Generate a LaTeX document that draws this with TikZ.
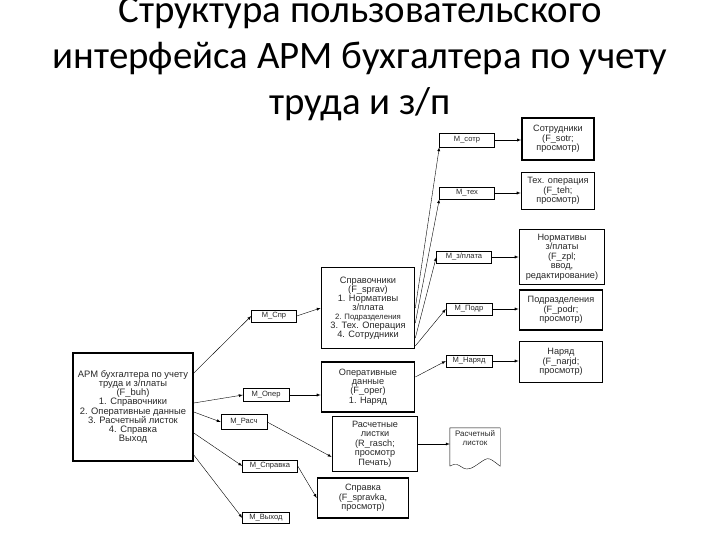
\documentclass[tikz,border=0pt]{standalone}
\usepackage{fontspec}
\setmainfont{Liberation Sans}
\newfontfamily\titlefont{Carlito}
\usetikzlibrary{arrows}
\tikzset{>=latex}
\tikzset{
  menu/.style={draw,thin,inner sep=0pt,align=center,text=black!85,font=\fontsize{7.6}{8}\selectfont},
  form/.style={draw,line width=1.6pt,inner sep=0pt,align=center,text=black!85,font=\fontsize{9.2}{9.5}\selectfont},
  link/.style={->,thin}
}

\begin{document}
\begin{tikzpicture}[x=1bp,y=-1bp]
  \useasboundingbox (0,0) rectangle (720,540);
  \node[align=center,font=\titlefont\fontsize{39}{46}\selectfont] (title) at (360,59)
    {Структура пользовательского\\интерфейса АРМ бухгалтера по учету\\труда и з/п};

  \node[form,font=\fontsize{9.4}{9.3}\selectfont,minimum width=120bp,minimum height=108bp] (main) at (133,407)
    {АРМ бухгалтера по учету\\труда и з/платы\\(F\_buh)\\1. Справочники\\2. Оперативные данные\\3. Расчетный  листок\\4. Справка\\Выход};

  \node[menu,minimum width=45bp,minimum height=12bp] (mspr) at (274,316) {M\_Спр};
  \node[menu,minimum width=46bp,minimum height=13bp] (moper) at (266,395) {M\_Опер};
  \node[menu,minimum width=46bp,minimum height=15bp] (mrasch) at (244,422) {M\_Расч};
  \node[menu,minimum width=55bp,minimum height=12bp] (mspravka) at (270,466) {M\_Справка};
  \node[menu,minimum width=47bp,minimum height=11bp] (mexit) at (266,518) {M\_Выход};

  \node[form,font=\fontsize{9.3}{9.1}\selectfont,minimum width=93bp,minimum height=81bp] (sprav) at (368,308)
    {Справочники\\(F\_sprav)\\1. Нормативы\\з/плата\\{\fontsize{7.8}{8}\selectfont 2. Подразделения}\\3. Тех. Операция\\4. Сотрудники};
  \node[form,minimum width=93bp,minimum height=50bp] (oper) at (368,387)
    {Оперативные\\данные\\(F\_oper)\\1. Наряд};
  \node[form,minimum width=85bp,minimum height=55bp] (rasch) at (375,444)
    {Расчетные\\листки\\(R\_rasch;\\просмотр\\Печать)};
  \node[form,minimum width=91bp,minimum height=40bp] (spravka) at (363,498)
    {Справка\\(F\_spravka,\\просмотр)};

  \node[menu,draw=none,font=\fontsize{8}{9}\selectfont,minimum width=50bp,minimum height=38bp] (doc) at (475,447)
    {Расчетный\\листок\\[8bp]};
  \draw[thin] (doc.south west) -- (doc.north west) -- (doc.north east) -- (doc.south east)
    .. controls ++(-14,-11) and ++(14,-9) .. ([xshift=25bp]doc.south west)
    .. controls ++(-14,9) and ++(12,-7) .. (doc.south west);

  \node[menu,minimum width=55bp,minimum height=14bp] (msotr) at (467,140) {M\_сотр};
  \node[menu,minimum width=55bp,minimum height=12bp] (mteh) at (467,193) {M\_тех};
  \node[menu,minimum width=55bp,minimum height=12bp] (mzpl) at (464,257) {M\_з/плата};
  \node[menu,minimum width=46bp,minimum height=12bp] (mpodr) at (469,309) {M\_Подр};
  \node[menu,minimum width=46bp,minimum height=12bp] (mnarjd) at (469,361) {M\_Наряд};

  \node[form,minimum width=72bp,minimum height=42bp] (sotr) at (558,139)
    {Сотрудники\\(F\_sotr;\\просмотр)};
  \node[form,minimum width=73bp,minimum height=37bp] (teh) at (558,191)
    {Тех. операция\\(F\_teh;\\просмотр)};
  \node[form,minimum width=85bp,minimum height=55bp] (norm) at (562,257)
    {Нормативы\\з/платы\\(F\_zpl;\\ввод,\\редактирование)};
  \node[form,minimum width=83bp,minimum height=40bp] (podr) at (561,310)
    {Подразделения\\(F\_podr;\\просмотр)};
  \node[form,minimum width=83bp,minimum height=41bp] (narjd) at (561,362)
    {Наряд\\(F\_narjd;\\просмотр)};

  \draw[link] ([yshift=34bp]main.east) -- (mspr.west);
  \draw[link] ([yshift=4bp]main.east) -- (moper.west);
  \draw[link] ([yshift=-5bp]main.east) -- (mrasch.west);
  \draw[link] ([yshift=-26bp]main.east) -- (mspravka.west);
  \draw[link] ([yshift=-48bp]main.east) -- (mexit.west);

  \draw[link] (mspr.east) -- (sprav.west);
  \draw[link] (moper.east) -- (moper.east -| oper.west);
  \draw[link] (mrasch.east) -- ([yshift=-13bp]rasch.west);
  \draw[link] (mspravka.east) -- (spravka.west);
  \draw[link] (rasch.east) -- (rasch.east -| doc.west);

  \draw[link] (sprav.east) -- (msotr.south west);
  \draw[link] ([yshift=-15bp]sprav.east) -- (mteh.south west);
  \draw[link] ([yshift=-30bp]sprav.east) -- (mzpl.west);
  \draw[link] ([yshift=-38bp]sprav.east) -- (mpodr.west);
  \draw[link] ([yshift=10bp]oper.east) -- (mnarjd.west);

  \draw[link] (msotr.east) -- (msotr.east -| sotr.west);
  \draw[link] (mteh.east) -- (mteh.east -| teh.west);
  \draw[link] (mzpl.east) -- (mzpl.east -| norm.west);
  \draw[link] (mpodr.east) -- (mpodr.east -| podr.west);
  \draw[link] (mnarjd.east) -- (mnarjd.east -| narjd.west);
\end{tikzpicture}
\end{document}
